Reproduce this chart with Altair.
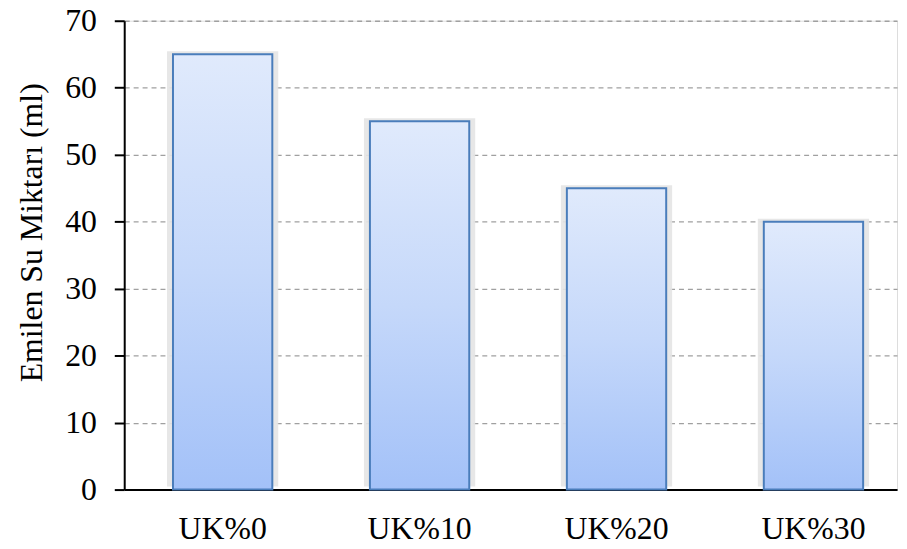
import altair as alt
import pandas as pd

categories = ["UK%0", "UK%10", "UK%20", "UK%30"]
values = [65, 55, 45, 40]
y_ticks = [0, 10, 20, 30, 40, 50, 60, 70]

df = pd.DataFrame({"kategori": categories, "deger": values})

FONT = "Liberation Serif"

x_enc = alt.X(
    "kategori:N",
    sort=categories,
    title=None,
    scale=alt.Scale(paddingInner=0.496, paddingOuter=0.21, align=0.59),
    axis=alt.Axis(
        labelAngle=0, ticks=False, grid=False, domainColor="black", domainWidth=2,
        labelFont=FONT, labelFontSize=32, labelColor="black", labelPadding=24,
    ),
)
y_enc = alt.Y(
    "deger:Q",
    title="Emilen Su Miktarı (ml)",
    scale=alt.Scale(domain=[0, 70], nice=False),
    axis=alt.Axis(
        values=y_ticks, grid=True, gridColor="#a0a0a0", gridDash=[5, 4], gridWidth=1.3,
        domainColor="black", domainWidth=2, tickColor="black", tickWidth=2, tickSize=10,
        labelFont=FONT, labelFontSize=32, labelColor="black", labelPadding=18,
        titleFont=FONT, titleFontSize=32, titleFontWeight="normal", titleColor="black",
        titleX=-83, titleY=213, titleBaseline="alphabetic", titleAngle=-90,
    ),
)

shadow = alt.Chart(df).mark_bar(
    size=112, color="#e4e4e4", opacity=0.9, yOffset=-3
).encode(x=x_enc, y=y_enc)

bars = alt.Chart(df).mark_bar(
    size=100,
    stroke="#4a7dbb",
    strokeWidth=2,
    color=alt.Gradient(
        gradient="linear",
        stops=[
            alt.GradientStop(color="#e0eafc", offset=0),
            alt.GradientStop(color="#c5d8fa", offset=0.5),
            alt.GradientStop(color="#a3c1f8", offset=1),
        ],
        x1=0, x2=0, y1=0, y2=1,
    ),
).encode(x=x_enc, y=y_enc)

chart = alt.layer(shadow, bars).properties(
    width=778,
    height=472,
    autosize=alt.AutoSizeParams(type="none"),
    padding={"left": 117, "top": 11, "right": 2, "bottom": 58},
).configure_view(stroke=None).configure(background="white")

chart.save("out.html", embed_options={"renderer": "svg", "actions": False})
